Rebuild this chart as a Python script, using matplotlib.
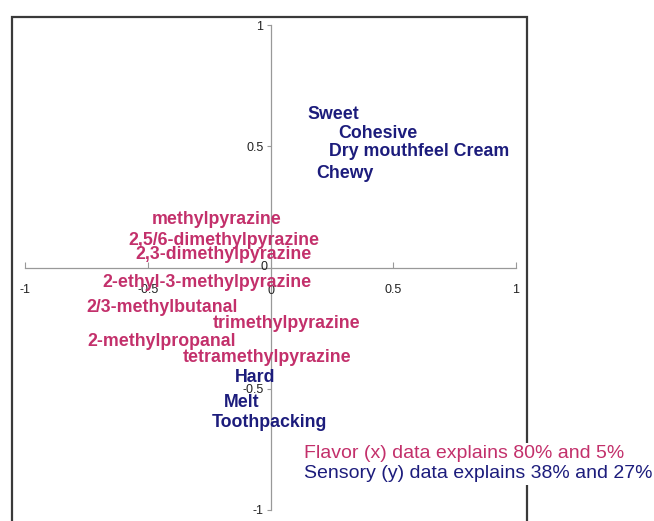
import matplotlib
matplotlib.use("Agg")
import matplotlib.pyplot as plt
from matplotlib.patches import Rectangle

plt.rcParams['font.family'] = ['Liberation Sans', 'DejaVu Sans']

# Flavor (x) loadings
flavor_labels = ["methylpyrazine", "2,5/6-dimethylpyrazine", "2,3-dimethylpyrazine",
                 "2-ethyl-3-methylpyrazine", "2/3-methylbutanal", "trimethylpyrazine",
                 "2-methylpropanal", "tetramethylpyrazine"]
flavor_x = [-0.22, -0.19, -0.19, -0.257, -0.44, 0.065, -0.445, -0.012]
flavor_y = [0.199, 0.112, 0.054, -0.062, -0.165, -0.231, -0.306, -0.372]

# Sensory (y) loadings
sensory_labels = ["Sweet", "Cohesive", "Dry mouthfeel Cream", "Chewy",
                  "Hard", "Melt", "Toothpacking"]
sensory_x = [0.257, 0.437, 0.605, 0.302, -0.061, -0.118, -0.004]
sensory_y = [0.632, 0.554, 0.48, 0.389, -0.454, -0.558, -0.64]

ticks = [-1, -0.5, 0.5, 1]
tick_text = ["-1", "-0.5", "0.5", "1"]

flavor_color = "#C3306B"
sensory_color = "#1C1C7C"

fig = plt.figure(figsize=(6.54, 5.21), dpi=100)

# outer frame
fig.patches.append(Rectangle((12 / 654, -0.05), (527 - 12) / 654, 1 + 0.05 - 17 / 521,
                             transform=fig.transFigure, fill=False,
                             edgecolor="#3a3a3a", linewidth=1.6, zorder=0))

ax = fig.add_axes([25 / 654, 11 / 521, 491 / 654, 485 / 521])
ax.set_xlim(-1, 1)
ax.set_ylim(-1, 1)
ax.patch.set_alpha(0)

for side in ("top", "right"):
    ax.spines[side].set_visible(False)
ax.spines["left"].set_position(("data", 0))
ax.spines["bottom"].set_position(("data", 0))
for side in ("left", "bottom"):
    ax.spines[side].set_color("#999999")
    ax.spines[side].set_linewidth(0.9)

ax.set_xticks(ticks)
ax.set_xticklabels(tick_text)
ax.set_yticks(ticks)
ax.set_yticklabels(tick_text)
ax.tick_params(axis="x", direction="in", length=4, color="#999999", labelsize=9,
               labelcolor="#222222", pad=12)
ax.tick_params(axis="y", direction="out", length=3, color="#999999", labelsize=9,
               labelcolor="#222222", pad=2)

# zero labels
ax.text(-0.012, 0.0, "0", ha="right", va="center", fontsize=9, color="#222222")
ax.text(0.0, -0.095, "0", ha="center", va="center", fontsize=9, color="#222222")

for lab, x, y in zip(flavor_labels, flavor_x, flavor_y):
    ax.text(x, y, lab, ha="center", va="center", fontsize=12.8, fontweight="bold",
            color=flavor_color)
for lab, x, y in zip(sensory_labels, sensory_x, sensory_y):
    ax.text(x, y, lab, ha="center", va="center", fontsize=12.8, fontweight="bold",
            color=sensory_color)

# explained variance note
fig.text(304 / 654, 1 - 454 / 521, "Flavor (x) data explains 80% and 5%",
         ha="left", va="center", fontsize=14, color=flavor_color,
         bbox=dict(facecolor="white", edgecolor="none", pad=1.5))
fig.text(304 / 654, 1 - 474 / 521, "Sensory (y) data explains 38% and 27%",
         ha="left", va="center", fontsize=14, color=sensory_color,
         bbox=dict(facecolor="white", edgecolor="none", pad=1.5))

fig.savefig("out.png", dpi=100)
